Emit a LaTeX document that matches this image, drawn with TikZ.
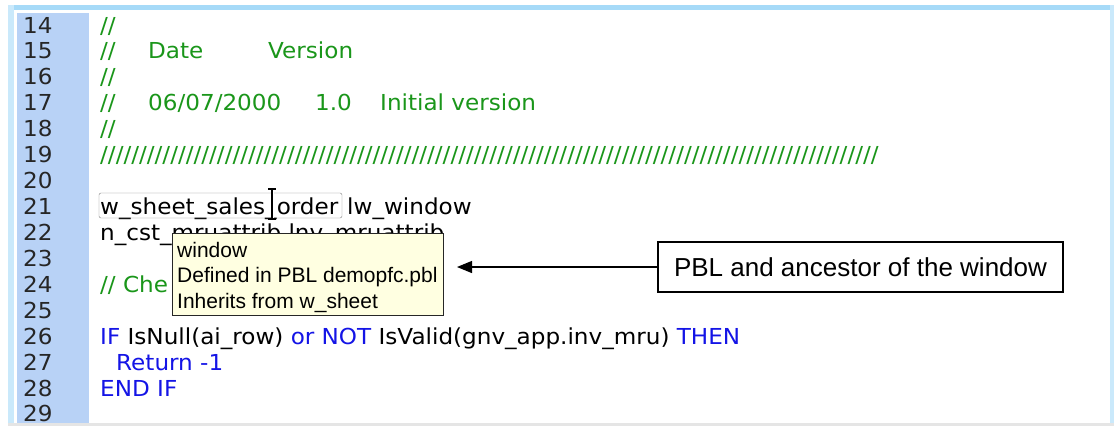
\documentclass[tikz,border=0pt]{standalone}
\usepackage{fontspec}
\usetikzlibrary{arrows.meta}
\newfontfamily\codefont[FakeStretch=1.05]{DejaVu Sans}
\newfontfamily\tipfont{Liberation Sans}
\definecolor{gutterbl}{HTML}{B8D2F6}
\definecolor{framebl}{HTML}{A6DAF8}
\definecolor{cmtgreen}{HTML}{1A961A}
\definecolor{kwblue}{HTML}{1414E6}
\definecolor{tipyellow}{HTML}{FFFFE1}
\tikzset{
  code/.style={anchor=base west, inner sep=0pt, font=\codefont\fontsize{22}{24}\selectfont},
  cmt/.style={code, text=cmtgreen},
  lnum/.style={code, text=black!85},
  tiptext/.style={anchor=base west, inner sep=0pt, font=\tipfont\fontsize{21}{24}\selectfont},
}
\newcommand{\by}[1]{33+(#1-14)*25.93}
\begin{document}
\begin{tikzpicture}[x=1pt, y=-1pt]
  \useasboundingbox (0,0) rectangle (1114,426);
  \fill[white] (0,0) rectangle (1114,426);
  % editor frame and gutter
  \fill[framebl] (8,5) rectangle (1114,10);
  \fill[framebl!60] (8,5) rectangle (14,426);
  \fill[framebl!60] (1110,5) rectangle (1114,426);
  \fill[black!10] (8,423) rectangle (1114,426);
  \fill[gutterbl] (17,13) rectangle (89,423);

  \foreach \n in {14,...,29}
    \node[lnum] (n\n) at (23, {\by{\n}}) {\n};

  % header comment
  \node[cmt] (c14) at (100, {\by{14}}) {//};
  \node[cmt] (c15) at (100, {\by{15}}) {//};
  \node[cmt] (date) at (148, {\by{15}}) {Date};
  \node[cmt] (vers) at (268, {\by{15}}) {Version};
  \node[cmt] (c16) at (100, {\by{16}}) {//};
  \node[cmt] (c17) at (100, {\by{17}}) {//};
  \node[cmt] (d17) at (148, {\by{17}}) {06/07/2000};
  \node[cmt] (v17) at (315, {\by{17}}) {1.0};
  \node[cmt] (i17) at (380, {\by{17}}) {Initial version};
  \node[cmt] (c18) at (100, {\by{18}}) {//};
  \node[cmt] (c19) at (100, {\by{19}}) {////////////////////////////////////////////////////////////////////////////////////////////////////};

  % declarations
  \node[code] (wname) at (100, {\by{21}}) {w\_sheet\_sales\_order};
  \draw[black!50, rounded corners=2pt] (99,193) rectangle (342,218);
  \node[code] (lw) at (347, {\by{21}}) {lw\_window};
  \node[code] (l22) at (100, {\by{22}}) {n\_cst\_mruattrib lnv\_mruattrib};
  \node[cmt] (c24) at (100, {\by{24}}) {// Che};

  % mouse cursor
  \draw[white, line width=3pt] (272,189) -- (272,219);
  \draw[line width=1.2pt] (268,189) -- (276,189) (272,189) -- (272,219) (268,219) -- (276,219);

  % tooltip
  \draw[black!85, fill=tipyellow] (172,233) rectangle (443,315);
  \node[tiptext] (t1) at (177,257) {window};
  \node[tiptext] (t2) at (177,282) {Defined in PBL demopfc.pbl};
  \node[tiptext] (t3) at (177,308) {Inherits from w\_sheet};

  % code
  \node[code] (l26) at (100, {\by{26}}) {\textcolor{kwblue}{IF} IsNull(ai\_row) \textcolor{kwblue}{or NOT} IsValid(gnv\_app.inv\_mru) \textcolor{kwblue}{THEN}};
  \node[code, text=kwblue] (l27) at (116, {\by{27}}) {Return -1};
  \node[code, text=kwblue] (l28) at (100, {\by{28}}) {END IF};

  % callout
  \node[draw, line width=1.2pt, minimum width=405pt, minimum height=50pt, inner sep=0pt,
        font=\tipfont\fontsize{26}{28}\selectfont] (pbl) at (860.5,267) {PBL and ancestor of the window};
  \coordinate (tipend) at (457,267);
  \draw[line width=1.2pt, -{Triangle[length=15pt,width=12pt]}] (pbl) -- (tipend);
\end{tikzpicture}
\end{document}
